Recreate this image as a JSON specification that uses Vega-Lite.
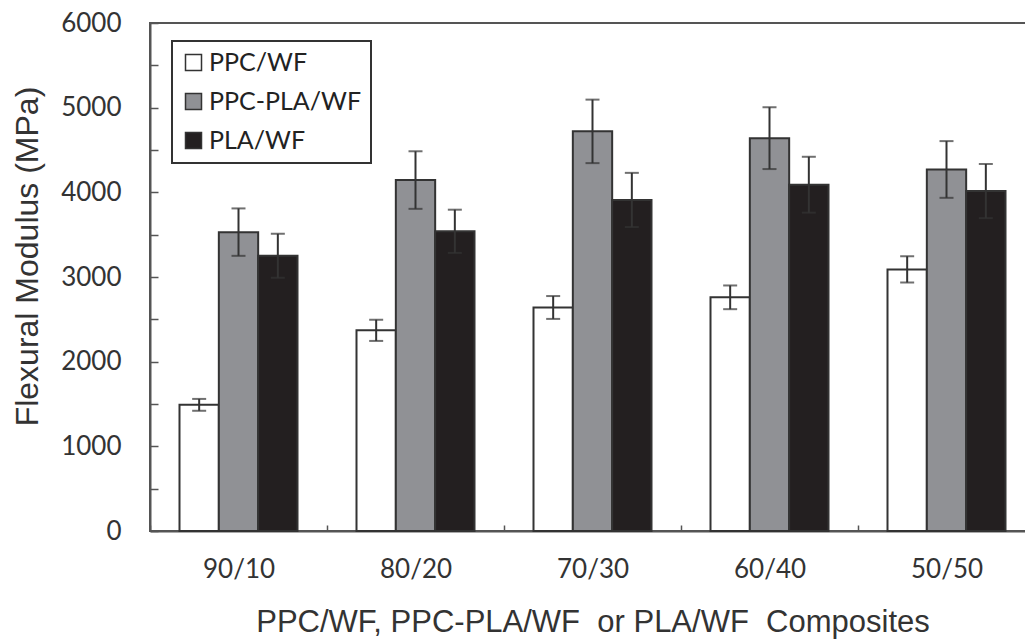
{
  "$schema": "https://vega.github.io/schema/vega-lite/v6.json",
  "width": 885,
  "height": 508,
  "autosize": {"type": "none"},
  "padding": {"left": 150, "top": 23, "right": 0, "bottom": 110},
  "background": "white",
  "config": {
    "view": {"stroke": "#555", "strokeWidth": 2},
    "axis": {"domainColor": "#555", "domainWidth": 2, "tickColor": "#555", "tickWidth": 1.5, "grid": false,
      "labelFont": "Lato", "labelColor": "#333", "labelFontSize": 26, "titleFont": "Liberation Sans", "titleColor": "#333", "titleFontSize": 31, "titleFontWeight": "normal"}
  },
  "data": {"values": [
    {"ratio": "90/10", "type": "PPC/WF", "value": 1490, "err": 70},
    {"ratio": "90/10", "type": "PPC-PLA/WF", "value": 3530, "err": 280},
    {"ratio": "90/10", "type": "PLA/WF", "value": 3250, "err": 260},
    {"ratio": "80/20", "type": "PPC/WF", "value": 2370, "err": 125},
    {"ratio": "80/20", "type": "PPC-PLA/WF", "value": 4145, "err": 340},
    {"ratio": "80/20", "type": "PLA/WF", "value": 3540, "err": 255},
    {"ratio": "70/30", "type": "PPC/WF", "value": 2640, "err": 135},
    {"ratio": "70/30", "type": "PPC-PLA/WF", "value": 4720, "err": 375},
    {"ratio": "70/30", "type": "PLA/WF", "value": 3910, "err": 320},
    {"ratio": "60/40", "type": "PPC/WF", "value": 2760, "err": 140},
    {"ratio": "60/40", "type": "PPC-PLA/WF", "value": 4640, "err": 365},
    {"ratio": "60/40", "type": "PLA/WF", "value": 4090, "err": 330},
    {"ratio": "50/50", "type": "PPC/WF", "value": 3090, "err": 155},
    {"ratio": "50/50", "type": "PPC-PLA/WF", "value": 4270, "err": 335},
    {"ratio": "50/50", "type": "PLA/WF", "value": 4015, "err": 320}
  ]},
  "transform": [
    {"calculate": "datum.value - datum.err", "as": "lo"},
    {"calculate": "datum.value + datum.err", "as": "hi"}
  ],
  "encoding": {
    "x": {"field": "ratio", "type": "nominal", "sort": ["90/10", "80/20", "70/30", "60/40", "50/50"],
      "scale": {"paddingInner": 0, "paddingOuter": 0},
      "axis": {"title": "PPC/WF, PPC-PLA/WF\u00a0\u00a0or PLA/WF\u00a0\u00a0Composites", "labelAngle": 0, "tickBand": "extent", "tickSize": -6, "labelPadding": 31, "titlePadding": 25}},
    "xOffset": {"field": "type", "type": "nominal", "sort": ["PPC/WF", "PPC-PLA/WF", "PLA/WF"],
      "scale": {"paddingInner": 0, "paddingOuter": 0.75}}
  },
  "layer": [
    {
      "mark": {"type": "bar", "stroke": "#333", "strokeWidth": 2},
      "encoding": {
        "y": {"field": "value", "type": "quantitative",
          "scale": {"domain": [0, 6000], "nice": false},
          "axis": {"title": "Flexural Modulus (MPa)", "values": [0,500,1000,1500,2000,2500,3000,3500,4000,4500,5000,5500,6000],
            "labelExpr": "datum.value % 1000 === 0 ? datum.label : ''", "format": "d", "tickSize": -8, "labelPadding": 37, "titleX": -106, "titleY": 233, "titleFontSize": 32}},
        "fill": {"field": "type", "type": "nominal", "sort": ["PPC/WF", "PPC-PLA/WF", "PLA/WF"],
          "scale": {"domain": ["PPC/WF", "PPC-PLA/WF", "PLA/WF"], "range": ["#ffffff", "#909195", "#231f20"]},
          "legend": {"title": null, "orient": "none", "legendX": 22, "legendY": 18, "strokeColor": "#333",
            "padding": 9, "symbolType": "square", "symbolSize": 256, "symbolStrokeColor": "#333", "symbolStrokeWidth": 1.5,
            "labelFont": "Lato", "labelFontSize": 25, "labelColor": "#222", "rowPadding": 13, "labelOffset": 3, "symbolOpacity": 1,
            "encode": {"legend": {"update": {"strokeWidth": {"value": 2}}}}}}
      }
    },
    {
      "mark": {"type": "rule", "stroke": "#333", "strokeWidth": 2},
      "encoding": {
        "y": {"field": "lo", "type": "quantitative"},
        "y2": {"field": "hi"}
      }
    },
    {
      "mark": {"type": "tick", "color": "#333", "thickness": 2, "size": 14},
      "encoding": {"y": {"field": "lo", "type": "quantitative"}}
    },
    {
      "mark": {"type": "tick", "color": "#333", "thickness": 2, "size": 14},
      "encoding": {"y": {"field": "hi", "type": "quantitative"}}
    }
  ]
}
